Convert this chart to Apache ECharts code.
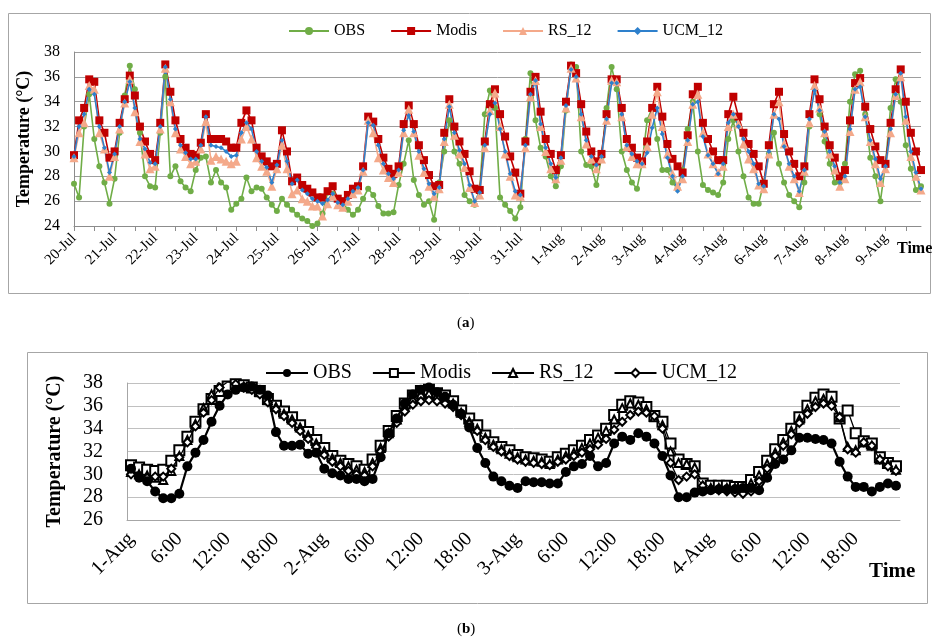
<!DOCTYPE html>
<html>
<head>
<meta charset="utf-8">
<script src="https://cdn.jsdelivr.net/npm/echarts@6/dist/echarts.min.js"></script>
<style>
  body { margin: 0; background: #fff; }
  #chartA { position: absolute; left: 0; top: 0; width: 933px; height: 330px; }
  #chartB { position: absolute; left: 0; top: 330px; width: 933px; height: 313px; }
</style>
</head>
<body>
<div id="chartA"></div>
<div id="chartB"></div>
<script>
const FONT = 'Liberation Serif'

// ---- panel (a): 20-Jul .. 9-Aug, 3-hourly readings ----
const daysA = ['20-Jul', '21-Jul', '22-Jul', '23-Jul', '24-Jul', '25-Jul', '26-Jul', '27-Jul', '28-Jul', '29-Jul', '30-Jul',
  '31-Jul', '1-Aug', '2-Aug', '3-Aug', '4-Aug', '5-Aug', '6-Aug', '7-Aug', '8-Aug', '9-Aug']
const hoursA = ['0:00', '3:00', '6:00', '9:00', '12:00', '15:00', '18:00', '21:00']

const obsA = [
  27.4, 26.3, 32.0, 34.6, 31.0, 28.8, 27.5, 25.8,
  27.8, 31.5, 34.5, 36.9, 35.0, 31.5, 28.0, 27.2,
  27.1, 31.5, 36.0, 28.0, 28.8, 27.6, 27.1, 26.8,
  28.5, 29.5, 29.6, 27.5, 28.5, 27.5, 27.1, 25.3,
  25.8, 26.2, 27.9, 26.8, 27.1, 27.0, 26.3, 25.7,
  25.2, 26.2, 25.7, 25.3, 24.9, 24.6, 24.4, 24.0,
  24.2, 25.0, 26.7, 26.6, 26.2, 25.9, 25.3, 24.9,
  25.3, 26.2, 27.0, 26.5, 25.6, 25.0, 25.0, 25.1,
  27.3, 29.0, 30.9, 27.7, 26.5, 25.7, 26.0, 24.5,
  27.5, 30.0, 32.5, 30.0, 29.0, 26.5, 26.0, 25.7,
  27.0, 33.0, 34.9, 33.5, 26.3, 25.7, 25.2, 24.6,
  25.5, 31.0, 36.3, 32.5, 30.3, 29.6, 28.0, 27.2,
  28.8, 33.3, 37.0, 36.8, 30.0, 28.9, 28.8, 27.3,
  29.5, 33.5, 36.8, 35.0, 30.0, 28.5, 27.5, 27.0,
  29.0, 32.5, 33.5, 31.0, 28.5, 28.5, 27.5, 27.0,
  28.5, 31.8, 34.0, 30.0, 27.3, 26.9, 26.7, 26.5,
  27.5, 31.0, 32.5, 30.0, 28.0, 26.3, 25.8, 25.8,
  27.5, 29.8, 31.5, 29.0, 27.5, 26.5, 26.0, 25.5,
  27.5, 32.0, 35.8, 33.0, 30.8, 29.0, 27.5, 27.5,
  29.0, 34.0, 36.2, 36.5, 33.0, 29.5, 28.0, 26.0,
  29.0, 33.5, 35.8, 34.0, 30.5, 28.6, 26.9, 27.2
]
const modisA = [
  29.7, 32.5, 33.5, 35.8, 35.6, 32.5, 31.5, 29.5,
  30.0, 32.3, 34.2, 36.1, 34.5, 32.0, 30.8, 29.8,
  29.3, 32.3, 37.0, 34.8, 32.5, 31.0, 30.3, 29.8,
  29.7, 30.7, 33.0, 31.0, 31.0, 31.0, 30.8, 30.3,
  30.3, 32.3, 33.3, 32.5, 30.3, 29.6, 29.2, 28.8,
  29.0, 31.7, 30.0, 27.6, 27.9, 27.3, 27.0, 26.7,
  26.3, 26.3, 26.8, 27.2, 26.2, 26.0, 26.5, 27.0,
  27.2, 28.8, 32.8, 32.4, 31.0, 29.5, 28.6, 28.2,
  28.8, 32.2, 33.7, 32.2, 30.5, 29.3, 28.1, 27.2,
  27.3, 31.5, 34.2, 32.0, 30.8, 29.8, 28.4, 27.0,
  26.9, 30.8, 33.8, 35.0, 33.0, 31.2, 29.6, 28.3,
  26.6, 30.8, 34.8, 36.0, 33.2, 31.0, 29.8, 28.5,
  29.7, 34.0, 36.9, 36.3, 33.8, 31.6, 30.0, 29.2,
  29.8, 33.0, 35.8, 35.8, 33.5, 31.0, 30.3, 29.5,
  29.2, 30.8, 33.5, 35.2, 32.8, 30.6, 29.4, 28.8,
  28.3, 31.3, 34.6, 35.2, 32.3, 31.0, 30.0, 29.3,
  29.3, 33.0, 34.4, 32.8, 31.5, 30.6, 29.8, 28.8,
  27.4, 30.5, 33.8, 34.8, 31.4, 30.0, 29.0, 28.0,
  28.8, 33.0, 35.8, 34.2, 32.0, 30.5, 29.5, 28.0,
  28.5, 32.5, 35.5, 35.9, 33.6, 31.8, 30.4, 29.3,
  29.0, 32.3, 35.0, 36.6, 34.0, 31.5, 30.0, 28.5
]
const rsA = [
  29.5, 31.5, 32.3, 35.3, 35.0, 31.5, 30.2, 28.0,
  29.6, 31.8, 33.9, 35.8, 33.2, 30.8, 29.8, 28.6,
  28.8, 31.8, 36.7, 34.0, 31.5, 30.2, 29.6, 29.0,
  29.2, 30.2, 32.4, 29.3, 29.6, 29.4, 29.2, 29.0,
  29.2, 31.0, 32.0, 31.0, 29.5, 28.8, 28.4, 27.2,
  28.6, 30.5, 28.6, 26.6, 26.9, 26.2, 26.0, 25.6,
  25.6, 24.8, 25.8, 26.4, 25.7, 25.5, 26.0, 26.6,
  26.9, 28.4, 32.5, 31.5, 29.5, 28.5, 27.9, 27.5,
  28.3, 31.5, 33.4, 31.5, 29.7, 28.3, 27.2, 26.4,
  27.0, 30.8, 33.8, 31.3, 29.8, 28.7, 27.1, 25.9,
  26.5, 30.3, 33.3, 34.7, 32.0, 29.8, 28.0, 26.5,
  26.4, 30.3, 34.4, 35.7, 32.0, 30.0, 28.6, 27.8,
  29.3, 33.5, 36.7, 35.9, 32.8, 30.6, 29.4, 28.6,
  29.4, 32.5, 35.7, 35.6, 32.8, 30.4, 29.6, 29.0,
  29.0, 30.4, 33.0, 34.8, 32.0, 29.8, 28.2, 27.2,
  27.8, 30.8, 33.8, 34.6, 31.5, 29.8, 29.0, 28.3,
  28.8, 32.0, 33.0, 32.2, 30.6, 29.4, 28.6, 27.3,
  27.0, 29.8, 33.0, 34.0, 30.6, 28.8, 27.8, 26.7,
  28.4, 32.3, 35.3, 33.5, 31.5, 29.8, 28.5, 27.2,
  27.8, 31.6, 35.0, 35.6, 32.8, 30.8, 29.0, 27.5,
  28.6, 31.5, 34.5, 36.0, 32.5, 29.6, 28.0, 26.9
]
const ucmA = [
  29.6, 32.0, 33.0, 35.0, 34.6, 32.0, 30.3, 28.3,
  29.8, 32.0, 34.0, 35.6, 33.5, 31.0, 30.2, 29.1,
  29.0, 32.0, 36.8, 34.2, 31.8, 30.5, 29.9, 29.4,
  29.4, 30.5, 32.8, 30.5, 30.4, 30.3, 30.0, 29.6,
  29.7, 31.5, 32.3, 31.8, 30.0, 29.2, 28.7, 27.5,
  28.9, 30.9, 29.2, 27.4, 27.7, 26.9, 26.6, 26.2,
  26.0, 25.8, 26.1, 26.6, 25.9, 25.7, 26.2, 26.8,
  27.1, 28.5, 32.3, 32.1, 30.5, 29.0, 28.2, 27.8,
  28.5, 31.7, 32.9, 31.6, 30.0, 28.6, 27.4, 26.6,
  27.1, 31.0, 33.6, 31.5, 30.1, 29.0, 27.3, 26.0,
  26.7, 30.5, 33.0, 33.9, 31.8, 30.0, 28.2, 26.8,
  26.5, 30.5, 34.6, 35.7, 32.2, 30.3, 29.0, 27.9,
  29.5, 33.7, 36.6, 36.0, 33.0, 30.9, 29.6, 28.9,
  29.6, 32.6, 35.5, 35.5, 33.0, 30.5, 29.8, 29.2,
  29.0, 29.9, 31.9, 33.5, 31.4, 29.5, 28.0, 26.8,
  28.0, 30.9, 33.8, 34.0, 31.2, 29.7, 29.0, 28.2,
  29.0, 32.3, 33.0, 32.0, 31.0, 30.0, 29.0, 27.4,
  27.2, 30.0, 33.0, 32.6, 30.4, 29.0, 28.0, 26.8,
  28.5, 32.6, 34.9, 33.3, 31.6, 30.0, 28.8, 27.5,
  28.0, 31.8, 35.0, 35.2, 32.8, 30.9, 29.4, 27.8,
  28.8, 31.8, 34.6, 36.3, 32.8, 30.0, 28.3, 27.0
]

// ---- panel (b): 1-Aug .. 4-Aug, hourly ----
const daysB = ['1-Aug', '2-Aug', '3-Aug', '4-Aug']
const obsB = [
  30.5, 29.7, 29.4, 28.5, 27.9, 27.9, 28.3, 30.7, 31.9, 33.0, 34.6, 36.0, 37.0, 37.4, 37.6, 37.7, 37.4, 36.9, 33.7, 32.5, 32.5, 32.6, 31.8, 31.9,
  30.5, 30.1, 29.9, 29.6, 29.6, 29.4, 29.6, 31.5, 33.6, 34.9, 36.2, 37.0, 37.4, 37.6, 37.2, 36.8, 36.1, 35.3, 34.1, 32.3, 31.0, 29.8, 29.4, 29.0,
  28.8, 29.4, 29.3, 29.3, 29.2, 29.2, 30.2, 30.7, 30.9, 31.6, 30.7, 31.0, 32.7, 33.3, 33.0, 33.6, 33.3, 32.7, 31.6, 29.9, 28.0, 28.0, 28.4, 28.5,
  28.6, 28.7, 28.7, 28.7, 28.8, 28.8, 28.6, 29.7, 30.9, 31.3, 32.1, 33.2, 33.2, 33.1, 33.0, 32.7, 31.1, 29.8, 28.9, 28.9, 28.5, 28.9, 29.2, 29.0
]
const modisB = [
  30.8, 30.6, 30.4, 30.3, 30.4, 31.2, 32.1, 33.3, 34.6, 35.7, 36.6, 37.3, 37.7, 37.9, 37.8, 37.6, 37.3, 36.6, 36.0, 35.5, 35.0, 34.3, 33.7, 33.0,
  32.3, 31.6, 31.2, 30.9, 30.7, 30.4, 31.3, 32.5, 33.8, 35.1, 36.2, 36.9, 37.3, 37.4, 37.1, 36.9, 36.4, 35.6, 34.9, 34.3, 33.4, 32.8, 32.4, 32.1,
  31.7, 31.5, 31.4, 31.3, 31.1, 31.5, 31.8, 32.1, 32.5, 33.0, 33.4, 34.0, 35.2, 36.1, 36.4, 36.3, 35.9, 35.1, 34.6, 32.7, 31.3, 30.9, 30.7, 29.2,
  29.0, 29.0, 29.0, 28.9, 28.9, 29.5, 30.2, 31.2, 32.2, 33.0, 34.0, 35.0, 36.0, 36.7, 37.0, 36.8, 34.9, 35.6, 33.6, 32.9, 32.7, 31.5, 31.0, 30.7
]
const rsB = [
  30.2, 30.0, 29.9, 29.7, 29.5, 30.3, 31.6, 33.0, 34.4, 35.8, 37.0, 38.2, 38.5, 38.2, 37.7, 37.6, 37.2, 36.5, 35.9, 35.3, 34.8, 34.1, 33.4, 32.7,
  32.0, 31.4, 31.0, 30.7, 30.4, 30.2, 31.0, 32.3, 33.6, 34.8, 35.9, 36.6, 37.0, 37.1, 36.9, 36.6, 36.2, 35.4, 34.6, 34.0, 33.2, 32.6, 32.2, 31.8,
  31.5, 31.3, 31.2, 31.1, 30.9, 31.3, 31.6, 31.9, 32.3, 32.7, 33.2, 33.8, 34.8, 35.8, 36.2, 36.1, 35.7, 35.0, 34.3, 32.0, 31.0, 30.9, 30.6, 29.0,
  28.8, 28.8, 28.8, 28.8, 28.7, 29.2, 29.9, 30.9, 31.9, 32.8, 33.8, 34.8, 35.7, 36.4, 36.6, 36.4, 35.0, 32.4, 32.1, 32.8, 32.5, 31.3, 30.9, 30.4
]
const ucmB = [
  30.0, 29.8, 29.7, 29.8, 29.8, 30.5, 31.5, 32.8, 34.2, 35.4, 36.5, 37.6, 38.1, 37.9, 37.6, 37.4, 37.0, 36.3, 35.7, 35.1, 34.5, 33.8, 33.1, 32.4,
  31.7, 31.1, 30.7, 30.3, 30.0, 29.9, 30.7, 32.0, 33.3, 34.5, 35.5, 36.1, 36.4, 36.5, 36.4, 36.2, 35.9, 35.2, 34.4, 33.8, 33.0, 32.4, 32.0, 31.6,
  31.3, 31.1, 31.0, 30.9, 30.8, 31.1, 31.3, 31.6, 31.9, 32.2, 32.6, 33.1, 33.9, 34.6, 35.2, 35.5, 35.4, 35.1, 34.0, 31.0, 29.5, 29.8, 30.0, 29.0,
  28.7, 28.6, 28.5, 28.4, 28.3, 28.5, 29.4, 30.5, 31.6, 32.5, 33.5, 34.5, 35.3, 35.9, 36.2, 36.0, 35.0, 32.2, 31.9, 32.8, 32.5, 31.3, 30.7, 30.3
]

const timeA = []
daysA.forEach(d => hoursA.forEach(h => timeA.push(d + ' ' + h)))
const timeB = []
daysB.forEach(d => { for (let h = 0; h < 24; h++) timeB.push(d + ' ' + h + ':00') })

const chartA = echarts.init(document.getElementById('chartA'))
const chartB = echarts.init(document.getElementById('chartB'))

const lineA = (name, data, color, symbol, size, width) => ({
  name, type: 'line', data, symbol, symbolSize: size, showAllSymbol: true,
  itemStyle: { color }, lineStyle: { color, width }
})

chartA.setOption({
  animation: false,
  textStyle: { fontFamily: FONT },
  graphic: [
    { type: 'rect', shape: { x: 8.5, y: 13.5, width: 922, height: 280 }, style: { fill: 'none', stroke: '#a6a6a6', lineWidth: 1 } },
    { type: 'text', left: 897, top: 241, style: { text: 'Time', font: 'bold 16px "Liberation Serif"', fill: '#000' } },
    {
      type: 'text', left: 457, top: 316,
      style: {
        text: '({b|a})', font: '15px "Liberation Serif"', fill: '#000',
        rich: { b: { fontWeight: 'bold', fontSize: 15, fontFamily: FONT } }
      }
    }
  ],
  legend: {
    left: 283, top: 18, itemWidth: 40, itemHeight: 10, itemGap: 25,
    textStyle: { fontFamily: FONT, fontSize: 16, color: '#000' }
  },
  grid: { left: 74, top: 52, width: 847, height: 174 },
  xAxis: {
    type: 'category', data: timeA, boundaryGap: false,
    axisLine: { lineStyle: { color: '#8c8c8c' } },
    axisTick: { interval: 3, length: 5, lineStyle: { color: '#8c8c8c' } },
    axisLabel: {
      interval: 7, rotate: 45, margin: 10, fontFamily: FONT, fontSize: 15, color: '#000',
      formatter: v => v.split(' ')[0]
    }
  },
  yAxis: {
    type: 'value', min: 24, max: 38, interval: 2,
    name: 'Temperature (°C)', nameLocation: 'middle', nameGap: 33,
    nameTextStyle: { fontFamily: FONT, fontSize: 18, fontWeight: 'bold', color: '#000' },
    axisLine: { show: true, lineStyle: { color: '#8c8c8c' } },
    axisTick: { show: false },
    axisLabel: { fontFamily: FONT, fontSize: 16, color: '#000', margin: 14 },
    splitLine: { lineStyle: { color: '#9e9e9e', width: 1 } }
  },
  series: [
    lineA('OBS', obsA, '#70AD47', 'circle', 6, 1.6),
    lineA('Modis', modisA, '#C00000', 'rect', 8, 1.6),
    lineA('RS_12', rsA, '#F4A98A', 'triangle', 9, 1.6),
    lineA('UCM_12', ucmA, '#2E80CC', 'diamond', 5, 1.6)
  ]
})

const lineB = (name, data, symbol, size, width, z) => ({
  name, type: 'line', data, symbol, symbolSize: size, showAllSymbol: true, z,
  itemStyle: { color: '#000', borderWidth: 1 }, lineStyle: { color: '#000', width }
})

chartB.setOption({
  animation: false,
  textStyle: { fontFamily: FONT },
  graphic: [
    { type: 'rect', shape: { x: 27.5, y: 22.5, width: 900, height: 251 }, style: { fill: 'none', stroke: '#a6a6a6', lineWidth: 1 } },
    { type: 'text', left: 869, top: 231, style: { text: 'Time', font: 'bold 21px "Liberation Serif"', fill: '#000' } },
    {
      type: 'text', left: 457, top: 292,
      style: {
        text: '({b|b})', font: '15px "Liberation Serif"', fill: '#000',
        rich: { b: { fontWeight: 'bold', fontSize: 15, fontFamily: FONT } }
      }
    }
  ],
  legend: {
    left: 260, top: 28, itemWidth: 42, itemHeight: 10, itemGap: 20,
    textStyle: { fontFamily: FONT, fontSize: 20, color: '#000' }
  },
  grid: { left: 127, top: 53, width: 773, height: 137 },
  xAxis: {
    type: 'category', data: timeB, boundaryGap: true,
    axisLine: { lineStyle: { color: '#a6a6a6' } },
    axisTick: { interval: 0, length: 4, lineStyle: { color: '#a6a6a6' } },
    axisLabel: {
      interval: 5, rotate: 45, margin: 16, fontFamily: FONT, fontSize: 20, color: '#000',
      formatter: v => { const p = v.split(' '); return p[1] === '0:00' ? p[0] : p[1] }
    }
  },
  yAxis: {
    type: 'value', min: 26, max: 38, interval: 2,
    name: 'Temperature (°C)', nameLocation: 'middle', nameGap: 62,
    nameTextStyle: { fontFamily: FONT, fontSize: 20, fontWeight: 'bold', color: '#000' },
    axisLine: { show: true, lineStyle: { color: '#a6a6a6' } },
    axisTick: { show: false },
    axisLabel: { fontFamily: FONT, fontSize: 20, color: '#000', margin: 24 },
    splitLine: { lineStyle: { color: '#c0c0c0', width: 1 } }
  },
  series: [
    lineB('OBS', obsB, 'circle', 10, 2.2, 4),
    lineB('Modis', modisB, 'emptyRect', 10, 1.3, 2),
    lineB('RS_12', rsB, 'emptyTriangle', 8, 1.3, 2),
    lineB('UCM_12', ucmB, 'emptyDiamond', 8, 1.3, 3)
  ]
})
</script>
</body>
</html>
